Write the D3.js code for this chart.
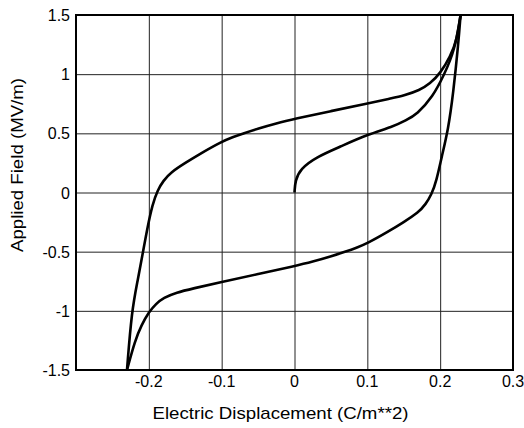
<!DOCTYPE html>
<html>
  <head>
    <meta charset="utf-8">
    <title>Hysteresis Loop</title>
    <script src="https://d3js.org/d3.v7.min.js"></script>
    <style>
      body { margin: 0; background: #fff; }
      .grid line { stroke: #222; stroke-width: 1px; }
      .grid .domain { display: none; }
      .tick-label { font-family: "Liberation Sans", Arial, sans-serif; font-size: 16px; fill: #000; }
      .axis__label { font-family: "Liberation Sans", Arial, sans-serif; font-size: 17px; fill: #000; }
      .curve { fill: none; stroke: #000; stroke-width: 2.6px; stroke-linejoin: round; }
      .frame { fill: none; stroke: #000; stroke-width: 2px; }
    </style>
  </head>
  <body>
    <svg width="524" height="428"></svg>
    <script>
      const xTicks = [-0.2, -0.1, 0, 0.1, 0.2, 0.3];
      const yTicks = [-1.5, -1, -0.5, 0, 0.5, 1, 1.5];

      // descending branch (from +saturation to -saturation)
      const upperX = [0.228, 0.223, 0.214, 0.2, 0.186, 0.172, 0.15, 0.131, 0.1, 0.05, 0, -0.025, -0.05, -0.07, -0.085, -0.1, -0.129, -0.15, -0.17, -0.18, -0.188, -0.195, -0.202, -0.2075, -0.2155, -0.2235, -0.23];
      const upperY = [1.5, 1.29, 1.15, 1.005, 0.92, 0.865, 0.818, 0.794, 0.752, 0.688, 0.622, 0.585, 0.54, 0.5, 0.468, 0.43, 0.33, 0.25, 0.17, 0.1, 0.02, -0.1, -0.3, -0.486, -0.75, -1.0, -1.5];

      // ascending branch
      const lowerX = [-0.23, -0.219, -0.21, -0.2, -0.19, -0.18, -0.162, -0.14, -0.1, -0.05, 0, 0.025, 0.05, 0.07, 0.085, 0.1, 0.129, 0.15, 0.17, 0.18, 0.188, 0.195, 0.202, 0.211, 0.218, 0.225, 0.228];
      const lowerY = [-1.5, -1.25, -1.12, -1.01, -0.94, -0.89, -0.845, -0.812, -0.755, -0.69, -0.622, -0.585, -0.54, -0.5, -0.468, -0.43, -0.33, -0.25, -0.17, -0.1, -0.02, 0.1, 0.3, 0.53, 0.84, 1.26, 1.5];

      // initial (virgin) curve
      const virginX = [0, 0.001, 0.008, 0.03, 0.062, 0.1, 0.135, 0.153, 0.168, 0.19, 0.205, 0.22, 0.228];
      const virginY = [0, 0.1, 0.2, 0.3, 0.385, 0.49, 0.555, 0.61, 0.66, 0.81, 0.99, 1.2, 1.5];

      function zip(xs, ys) {
        return xs.map((x, i) => ({ x: x, y: ys[i] }))
          .sort((a, b) => a.y - b.y);
      }

      function main() {
        const svg = d3.select("svg");
        const margin = { top: 15, right: 11, bottom: 58, left: 76 };
        const width = +svg.attr("width");
        const height = +svg.attr("height");
        const innerWidth = width - margin.left - margin.right;
        const innerHeight = height - margin.top - margin.bottom;

        const xScale = d3.scaleLinear().domain([-0.3, 0.3]).range([0, innerWidth]);
        const yScale = d3.scaleLinear().domain([-1.5, 1.5]).range([innerHeight, 0]);
        const fmt = d => String(d);

        const g = svg.append("g")
          .attr("transform", `translate(${margin.left}, ${margin.top})`);

        // grid lines
        g.append("g").attr("class", "grid")
          .attr("transform", `translate(0, ${innerHeight})`)
          .call(d3.axisBottom(xScale).tickValues(xTicks).tickSize(-innerHeight).tickFormat(""));
        g.append("g").attr("class", "grid")
          .call(d3.axisLeft(yScale).tickValues(yTicks).tickSize(-innerWidth).tickFormat(""));

        // tick labels (plain hyphen, as in the original)
        g.selectAll(".x-label").data(xTicks).enter().append("text")
          .attr("class", "tick-label")
          .attr("x", d => xScale(d))
          .attr("y", innerHeight + 17)
          .attr("text-anchor", "middle")
          .text(fmt);
        g.selectAll(".y-label").data(yTicks).enter().append("text")
          .attr("class", "tick-label")
          .attr("x", -6)
          .attr("y", d => yScale(d) + 6)
          .attr("text-anchor", "end")
          .text(fmt);

        const line = d3.line()
          .x(d => xScale(d.x))
          .y(d => yScale(d.y))
          .curve(d3.curveBasis);

        [zip(upperX, upperY), zip(lowerX, lowerY), zip(virginX, virginY)].forEach(data => {
          g.append("path").attr("class", "curve").attr("d", line(data));
        });

        g.append("rect").attr("class", "frame")
          .attr("width", innerWidth).attr("height", innerHeight);

        // axis labels
        g.append("text").attr("class", "axis__label")
          .attr("x", innerWidth / 2 - 14)
          .attr("y", innerHeight + 49)
          .attr("text-anchor", "middle")
          .attr("textLength", 256)
          .attr("lengthAdjust", "spacingAndGlyphs")
          .text("Electric Displacement (C/m**2)");
        g.append("text").attr("class", "axis__label")
          .attr("transform", "rotate(-90)")
          .attr("x", -(165 - margin.top))
          .attr("y", 23 - margin.left)
          .attr("text-anchor", "middle")
          .attr("textLength", 174)
          .attr("lengthAdjust", "spacingAndGlyphs")
          .text("Applied Field (MV/m)");
      }
      main();
    </script>
  </body>
</html>
